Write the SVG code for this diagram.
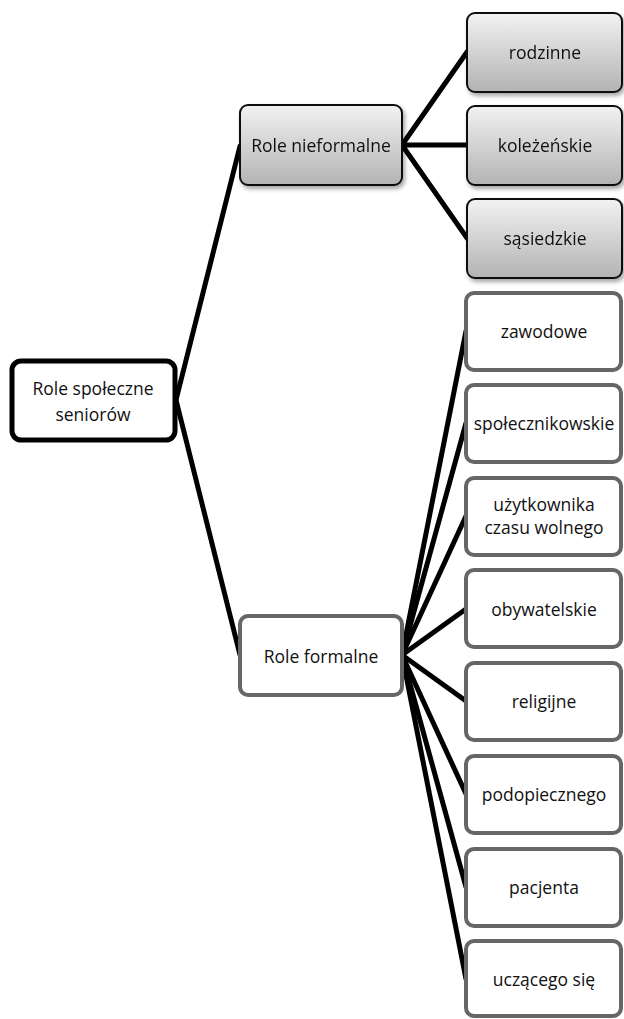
<svg xmlns="http://www.w3.org/2000/svg" width="624" height="1019" viewBox="0 0 624 1019">
<defs>
<linearGradient id="g" x1="0" y1="0" x2="0" y2="1">
<stop offset="0" stop-color="#f2f2f2"/>
<stop offset="1" stop-color="#b3b3b3"/>
</linearGradient>
<filter id="sh" x="-10%" y="-10%" width="125%" height="130%">
<feDropShadow dx="2" dy="3" stdDeviation="2" flood-color="#000" flood-opacity="0.35"/>
</filter>
<style>
text{font-family:"Open Sans","Liberation Sans",sans-serif;font-size:17.5px;fill:#111;text-anchor:middle;dominant-baseline:central}
.gray rect{fill:url(#g);stroke:#111;stroke-width:2}
.white rect{fill:#fff;stroke:#666;stroke-width:4}
.root rect{fill:#fff;stroke:#000;stroke-width:5}
#connectors line{stroke:#000;stroke-width:5;stroke-linecap:round}
</style>
</defs>
<rect width="624" height="1019" fill="#fff"/>
<g id="connectors">
<line x1="176" y1="400" x2="240" y2="146"/>
<line x1="176" y1="400" x2="240" y2="655"/>
<line x1="402" y1="145" x2="467" y2="52"/>
<line x1="402" y1="145" x2="467" y2="145"/>
<line x1="402" y1="145" x2="467" y2="238"/>
<line x1="402" y1="655" x2="466" y2="331"/>
<line x1="402" y1="655" x2="466" y2="423"/>
<line x1="402" y1="655" x2="466" y2="516"/>
<line x1="402" y1="655" x2="466" y2="609"/>
<line x1="402" y1="655" x2="466" y2="701"/>
<line x1="402" y1="655" x2="466" y2="794"/>
<line x1="402" y1="655" x2="466" y2="887"/>
<line x1="402" y1="655" x2="466" y2="979"/>
</g>
<g id="root" class="root"><rect x="12" y="361" width="163" height="79" rx="9"/><text x="93" y="388">Role społeczne</text><text x="93" y="414">seniorów</text></g>
<g id="nieformalne" class="gray" filter="url(#sh)"><rect x="240" y="105" width="162" height="80" rx="8"/><text x="321" y="145">Role nieformalne</text></g>
<g id="formalne" class="white"><rect x="240" y="616" width="162" height="79" rx="8"/><text x="321" y="656">Role formalne</text></g>
<g id="rodzinne" class="gray" filter="url(#sh)"><rect x="467" y="13" width="155" height="79" rx="8"/><text x="545" y="52">rodzinne</text></g>
<g id="kolezenskie" class="gray" filter="url(#sh)"><rect x="467" y="106" width="155" height="79" rx="8"/><text x="545" y="145">koleżeńskie</text></g>
<g id="sasiedzkie" class="gray" filter="url(#sh)"><rect x="467" y="199" width="155" height="79" rx="8"/><text x="545" y="238">sąsiedzkie</text></g>
<g id="zawodowe" class="white"><rect x="466" y="293" width="155" height="77" rx="8"/><text x="544" y="331">zawodowe</text></g>
<g id="spolecznikowskie" class="white"><rect x="466" y="385" width="155" height="77" rx="8"/><text x="544" y="423">społecznikowskie</text></g>
<g id="uzytkownika" class="white"><rect x="466" y="478" width="155" height="77" rx="8"/><text x="544" y="504">użytkownika</text><text x="544" y="527">czasu wolnego</text></g>
<g id="obywatelskie" class="white"><rect x="466" y="570" width="155" height="77" rx="8"/><text x="544" y="609">obywatelskie</text></g>
<g id="religijne" class="white"><rect x="466" y="663" width="155" height="77" rx="8"/><text x="544" y="701">religijne</text></g>
<g id="podopiecznego" class="white"><rect x="466" y="756" width="155" height="77" rx="8"/><text x="544" y="794">podopiecznego</text></g>
<g id="pacjenta" class="white"><rect x="466" y="849" width="155" height="77" rx="8"/><text x="544" y="887">pacjenta</text></g>
<g id="uczacego" class="white"><rect x="466" y="941" width="155" height="75" rx="8"/><text x="544" y="979">uczącego się</text></g>
</svg>
